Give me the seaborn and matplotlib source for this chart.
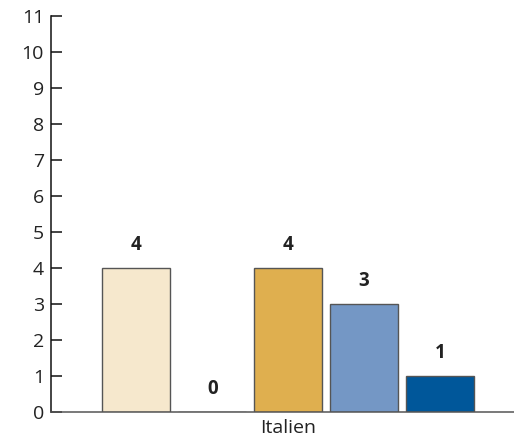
import pandas as pd
import numpy as np
import seaborn as sns
import matplotlib
matplotlib.use("Agg")
import matplotlib.pyplot as plt

# data
country = ["Italien"]
series = ["Serie 1", "Serie 2", "Serie 3", "Serie 4", "Serie 5"]
values = [4, 0, 4, 3, 1]
colors = ["#F6E8CD", "#BFBFBF", "#DFAF4F", "#7497C5", "#00579A"]

sns.set_theme(style="white")
plt.rcParams['font.family'] = ['Open Sans', 'DejaVu Sans']

df = pd.DataFrame({"Land": country * len(series), "Serie": series, "Wert": values})

fig = plt.figure(figsize=(5.14, 4.41), dpi=100)
ax = fig.add_axes([51 / 514, 29 / 441, 463 / 514, 396 / 441])

sns.barplot(data=df, x="Land", y="Wert", hue="Serie", hue_order=series,
            palette=colors, saturation=1, width=0.8, gap=0.105,
            edgecolor="#555555", linewidth=1.0, legend=False, ax=ax)

for cont in ax.containers:
    ax.bar_label(cont, padding=9, fontsize=13.5, fontweight="bold", color="#222222")

ax.set_ylim(0, 11)
ax.set_xlim(-0.5, 0.476)
ax.set_yticks(range(0, 12))
ax.set_xlabel("")
ax.set_ylabel("")

for s in ["top", "right"]:
    ax.spines[s].set_visible(False)
ax.spines["left"].set_color("#111111")
ax.spines["left"].set_linewidth(1.1)
ax.spines["bottom"].set_color("#555555")
ax.spines["bottom"].set_linewidth(1.1)

ax.tick_params(axis="y", direction="in", length=8, width=1.1, color="#111111",
               pad=5, labelsize=14, labelcolor="#222222", left=True)
ax.tick_params(axis="x", length=0, pad=5, labelsize=14, labelcolor="#222222")

fig.savefig("out.png", dpi=100)
